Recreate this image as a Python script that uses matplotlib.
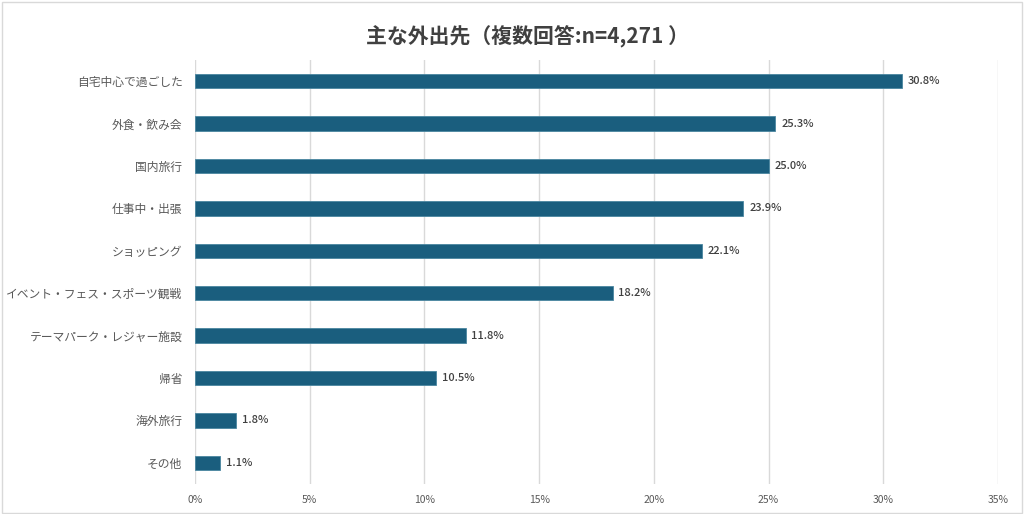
import matplotlib
matplotlib.use("Agg")
import matplotlib.pyplot as plt
from matplotlib.patches import Rectangle

plt.rcParams['font.family'] = ['Noto Sans CJK JP', 'DejaVu Sans']

categories = ["自宅中心で過ごした", "外食・飲み会", "国内旅行", "仕事中・出張", "ショッピング",
              "イベント・フェス・スポーツ観戦", "テーマパーク・レジャー施設", "帰省", "海外旅行", "その他"]
values = [30.8, 25.3, 25.0, 23.9, 22.1, 18.2, 11.8, 10.5, 1.8, 1.1]
xticks = [0, 5, 10, 15, 20, 25, 30, 35]
title = "主な外出先（複数回答:n=4,271 ）"

bar_color = "#1a5e7e"

fig = plt.figure(figsize=(10.24, 5.14), dpi=100)
ax = fig.add_axes([195/1024, 1-484/514, (998-195)/1024, (484-60)/514])

y = list(range(len(categories)))
ax.barh(y, values, height=0.34, color=bar_color, edgecolor="#4a86a0", linewidth=0.6, zorder=3)
for yi, v in zip(y, values):
    ax.text(v + 0.25, yi, f"{v:.1f}%", va="center", ha="left", fontsize=8, color="#404040", fontweight="medium")

ax.set_xlim(0, 35)
ax.set_ylim(len(categories) - 0.5, -0.5)
ax.set_yticks(y)
ax.set_yticklabels(categories, fontsize=8.5, color="#595959")
ax.set_xticks(xticks)
ax.set_xticklabels([f"{t}%" for t in xticks], fontsize=7.5, color="#595959")
ax.tick_params(axis="both", length=0)
ax.tick_params(axis="y", pad=9)
ax.tick_params(axis="x", pad=8)
ax.grid(axis="x", color="#d9d9d9", linewidth=1, zorder=0)
for s in ax.spines.values():
    s.set_visible(False)

fig.text(0.515, 1-37/514, title, ha="center", va="center", fontsize=15, fontweight="bold", color="#404040")

fig.patches.append(Rectangle((0.002, 0.002), 0.996, 0.994, transform=fig.transFigure,
                             fill=False, edgecolor="#d9d9d9", linewidth=1))

fig.savefig("out.png", dpi=100)
